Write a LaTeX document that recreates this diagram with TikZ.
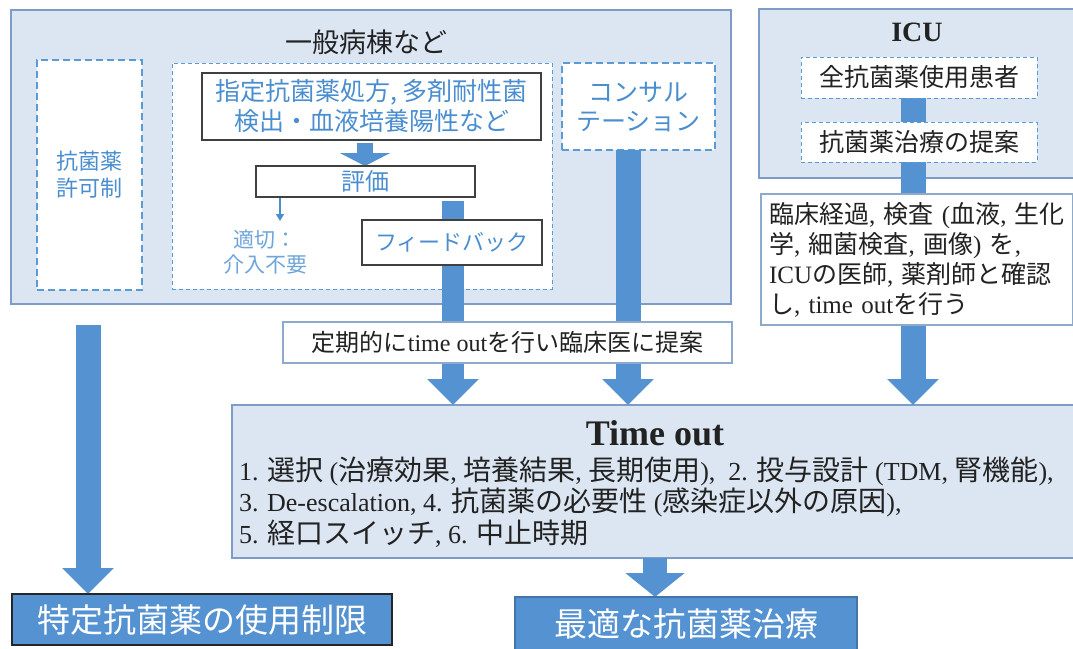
\documentclass[tikz,border=0pt]{standalone}
\usepackage{fontspec}
\setmainfont{Noto Sans CJK JP}
\newfontfamily\tm{Liberation Serif}
\usetikzlibrary{arrows.meta}
\definecolor{boxfill}{HTML}{DCE6F2}
\definecolor{boxedge}{HTML}{7E9CC7}
\definecolor{abl}{HTML}{5592D2}
\definecolor{tblue}{HTML}{4A8ED0}
\definecolor{lblue}{HTML}{6FA5DA}
\definecolor{dashc}{HTML}{5B9BD5}
\definecolor{wedge}{HTML}{8EAACB}
\definecolor{dtext}{HTML}{222222}
\pgfdeclarelayer{bg}
\pgfdeclarelayer{arr}
\pgfsetlayers{bg,arr,main}
\newcommand\fs[2]{\fontsize{#1}{#2}\selectfont}
\newcommand\lt[1]{{\tm\fontsize{26}{31.5}\selectfont #1}}
\newcommand\lr[1]{{\tm\fontsize{25}{30}\selectfont #1}}
\newcommand\lk[1]{{\tm\fontsize{24}{28}\selectfont #1}}
\begin{document}
\begin{tikzpicture}[x=1pt,y=-1pt,
  every node/.style={inner sep=0pt, outer sep=0pt, text=dtext},
  cont/.style={draw=boxedge, fill=boxfill, line width=1.2pt},
  dbox/.style={draw=dashc, fill=white, line width=1.4pt, dash pattern=on 7pt off 4pt},
  dboxs/.style={draw=dashc, fill=white, line width=1pt, dash pattern=on 4pt off 3pt},
  blkbox/.style={draw=black!75, fill=white, line width=1.2pt},
  wbox/.style={draw=wedge, fill=white, line width=1.2pt},
  bluebox/.style={fill=abl, line width=1.3pt, text=white},
  shaft/.style={draw=abl, line width=25pt},
  bigarrow/.style={draw=abl, line width=25pt, -{Triangle[width=50pt,length=26pt]}}
]
\useasboundingbox (0,0) rectangle (1073,648);

\begin{pgfonlayer}{bg}
\node[cont, minimum width=720pt, minimum height=294pt] (gen) at (371,157) {};
\node[cont, minimum width=326pt, minimum height=169pt] (icu) at (922,93.5) {};
\node[cont, minimum width=853pt, minimum height=153pt] (to) at (658.5,481.5) {};
\node[dbox, minimum width=105pt, minimum height=230pt, text=tblue, font=\fs{22}{27}, align=center] (kyoka) at (89.5,175) {抗菌薬\\許可制};
\node[dboxs, minimum width=380pt, minimum height=226pt] (inner) at (362,176) {};
\node[dbox, minimum width=153pt, minimum height=87pt, text=tblue, font=\fs{25}{29}, align=center] (consult) at (638.5,106.5) {コンサル\\テーション};
\end{pgfonlayer}

\node[font=\fs{27}{30}] (gentitle) at (366,42) {一般病棟など};
\node[blkbox, minimum width=339pt, minimum height=67pt, text=tblue, font=\fs{25}{30}, align=center] (shitei) at (371.5,106.5) {指定抗菌薬処方, 多剤耐性菌\\検出・血液培養陽性など};
\node[blkbox, minimum width=219pt, minimum height=31pt, text=tblue, font=\fs{24}{28}] (hyoka) at (365.5,181.5) {評価};
\node[text=lblue, font=\fs{21}{25}, align=center] (tekisetsu) at (265,252) {適切：\\介入不要};
\node[blkbox, minimum width=180pt, minimum height=45pt, text=tblue, font=\fs{22}{26}] (fb) at (452,242.5) {フィードバック};

\node[font=\tm\bfseries\fontsize{28}{32}\selectfont] (icutitle) at (917,32) {ICU};
\node[dboxs, minimum width=236pt, minimum height=41pt, font=\fs{25}{28}] (zen) at (919,77.5) {全抗菌薬使用患者};
\node[dboxs, minimum width=236pt, minimum height=40pt, font=\fs{25}{28}] (teian) at (919,142) {抗菌薬治療の提案};
\node[wbox, minimum width=312pt, minimum height=131pt, text width=296pt, align=left, font=\fs{25}{30}] (rinsho) at (917,259.5) {臨床経過\lr{, }検査\lr{ (}血液\lr{, }生化\\学\lr{, }細菌検査\lr{, }画像\lr{) }を\lr{,}\\\lr{ICU}の医師\lr{, }薬剤師と確認\\し\lr{, time out}を行う};

\node[wbox, minimum width=449pt, minimum height=41pt, font=\fs{24}{28}] (teiki) at (507.5,342.5) {定期的に\lk{time out}を行い臨床医に提案};

\node[font=\tm\bfseries\fontsize{36}{40}\selectfont] (totitle) at (655,433) {Time out};
\node[anchor=west, align=left, font=\fs{28}{31.5}] (tolist) at (239,502) {\lt{1. }選択\lt{ (}治療効果\lt{, }培養結果\lt{, }長期使用\lt{),\ \ 2. }投与設計\lt{ (TDM, }腎機能\lt{),}\\\lt{3. De-escalation, 4. }抗菌薬の必要性\lt{ (}感染症以外の原因\lt{),}\\\lt{5. }経口スイッチ\lt{, 6. }中止時期};

\node[bluebox, draw=black!85, minimum width=380pt, minimum height=51pt, font=\fs{33}{36}] (tokutei) at (202,619.5) {特定抗菌薬の使用制限};
\node[bluebox, draw=abl!80!black, minimum width=342pt, minimum height=53pt, font=\fs{33}{36}] (saiteki) at (686,623.5) {最適な抗菌薬治療};

\coordinate (xl) at (88,0);
\coordinate (xf) at (453,0);
\coordinate (xc) at (628,0);
\coordinate (xi) at (913,0);
\coordinate (xb) at (655,0);
\coordinate (xs) at (365,0);
\coordinate (xt) at (280,0);
\coordinate (tekend) at (280,221);

\begin{pgfonlayer}{arr}
\draw[bigarrow, shorten <=21pt] (gen.south -| xl) -- (tokutei.north -| xl);
\draw[bigarrow, line width=22pt, shorten <=4pt] (hyoka.south -| xf) -- (to.north -| xf);
\draw[bigarrow] (consult.south -| xc) -- (to.north -| xc);
\draw[shaft] (zen.south -| xi) -- (teian.north -| xi);
\draw[shaft] (teian.south -| xi) -- (rinsho.north -| xi);
\draw[bigarrow] (rinsho.south -| xi) -- (to.north -| xi);
\draw[draw=abl, line width=24pt, -{Triangle[width=58pt,length=24pt]}] (to.south -| xb) -- (saiteki.north -| xb);
\draw[draw=abl, line width=16pt, -{Triangle[width=50pt,length=13pt]}, shorten <=3pt] (shitei.south -| xs) -- (hyoka.north -| xs);
\draw[tblue, line width=1.5pt, -{Triangle[width=8pt,length=7pt]}] (hyoka.south -| xt) -- (tekend);
\end{pgfonlayer}
\end{tikzpicture}
\end{document}
